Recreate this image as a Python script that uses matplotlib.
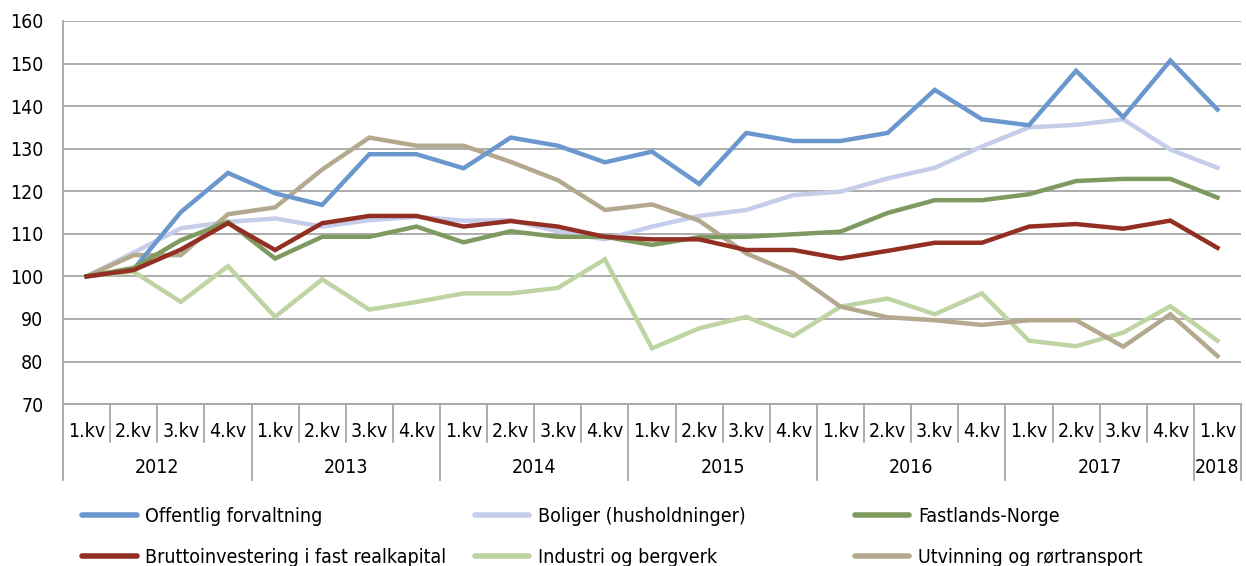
import matplotlib.pyplot as plt
import matplotlib.transforms as mtransforms
from matplotlib.lines import Line2D

plt.rcParams['font.family'] = ['DejaVu Sans']
plt.rcParams['font.stretch'] = 'condensed'

# data: index, 2012 Q1 = 100
quarters = ['1.kv', '2.kv', '3.kv', '4.kv'] * 6 + ['1.kv']
years = ['2012', '2013', '2014', '2015', '2016', '2017', '2018']

offentlig = [100, 101.7, 115.1, 124.3, 119.5, 116.8, 128.7, 128.7, 125.4, 132.6, 130.7, 126.8, 129.3,
             121.7, 133.7, 131.8, 131.8, 133.7, 143.8, 136.9, 135.5, 148.3, 137.4, 150.7, 139.2]
boliger = [100, 105.6, 111.3, 112.8, 113.6, 111.7, 113.2, 114.0, 113.1, 113.2, 110.6, 108.7, 111.7,
           114.2, 115.6, 119.1, 119.9, 123.0, 125.5, 130.5, 135.0, 135.6, 136.9, 129.8, 125.5]
fastland = [100, 102.0, 108.5, 112.8, 104.2, 109.3, 109.3, 111.7, 108.0, 110.6, 109.3, 109.3, 107.4,
            109.2, 109.3, 109.9, 110.5, 114.9, 117.9, 117.9, 119.3, 122.4, 122.9, 122.9, 118.5]
brutto = [100, 101.5, 106.3, 112.5, 106.2, 112.5, 114.2, 114.2, 111.7, 113.0, 111.7, 109.3, 108.7,
          108.7, 106.2, 106.2, 104.2, 106.0, 107.9, 107.9, 111.7, 112.3, 111.2, 113.1, 106.7]
industri = [100, 101.1, 94.0, 102.4, 90.5, 99.3, 92.2, 94.0, 96.0, 96.0, 97.3, 104.0, 83.1,
            87.8, 90.5, 86.0, 92.9, 94.8, 91.1, 96.0, 84.9, 83.6, 86.8, 93.0, 84.9]
utvinning = [100, 105.0, 105.0, 114.6, 116.2, 125.1, 132.6, 130.7, 130.7, 126.9, 122.6, 115.6, 116.9,
             113.1, 105.4, 100.7, 92.9, 90.4, 89.7, 88.6, 89.7, 89.7, 83.5, 91.1, 81.3]

series = [
    ('Offentlig forvaltning', offentlig, '#6b97cf'),
    ('Boliger (husholdninger)', boliger, '#c5cdeb'),
    ('Fastlands-Norge', fastland, '#7f9a5f'),
    ('Bruttoinvestering i fast realkapital', brutto, '#922f22'),
    ('Industri og bergverk', industri, '#bed4a2'),
    ('Utvinning og rørtransport', utvinning, '#b4a98e'),
]

fig = plt.figure(figsize=(12.46, 5.66), dpi=100)
ax = fig.add_axes([0.0506, 0.286, 0.9454, 0.677])

x = list(range(len(quarters)))
# draw order: light ones first so dark lines sit on top
for i in [1, 4, 5, 0, 2, 3]:
    name, vals, col = series[i]
    ax.plot(x, vals, color=col, lw=3.2, solid_joinstyle='miter', zorder=3)

ax.set_xlim(-0.5, len(quarters) - 0.5)
ax.set_ylim(70, 160)
ax.set_yticks(range(70, 161, 10))
ax.yaxis.grid(True, color='#a6a6a6', lw=1.3)
ax.set_axisbelow(True)
ax.tick_params(axis='y', length=0, labelsize=14, pad=14)
for s in ['top', 'right', 'bottom']:
    ax.spines[s].set_visible(False)
ax.spines['left'].set_color('#a6a6a6')
ax.spines['left'].set_linewidth(1.3)

# two-level category axis
ax.set_xticks(x)
ax.set_xticklabels(quarters, fontsize=14)
ax.tick_params(axis='x', length=0, pad=13)

trans = mtransforms.blended_transform_factory(ax.transData, ax.transAxes)
sep = '#a6a6a6'
for i in range(len(quarters) + 1):
    b = i - 0.5
    bottom = -0.197 if i % 4 == 0 or i == len(quarters) else -0.1
    ax.plot([b, b], [0, bottom], color=sep, lw=1.3, transform=trans, clip_on=False)
ax.plot([-0.5, len(quarters) - 0.5], [0, 0], color=sep, lw=1.3, transform=trans, clip_on=False)

for k, yr in enumerate(years):
    first = k * 4
    last = min(first + 3, len(quarters) - 1)
    ax.text((first + last) / 2, -0.165, yr, transform=trans, ha='center', va='center', fontsize=14)

# legend in three columns
order = [(0, 3), (1, 4), (2, 5)]
xpos = [0.066, 0.381, 0.686]
for (a, b), xp in zip(order, xpos):
    hs = [Line2D([], [], color=series[j][2], lw=4, solid_capstyle='round') for j in (a, b)]
    fig.legend(hs, [series[a][0], series[b][0]], loc='upper left', bbox_to_anchor=(xp, 0.105),
               frameon=False, fontsize=14, handlelength=2.8, handletextpad=0.45,
               labelspacing=1.15, borderaxespad=0, borderpad=0)

fig.savefig('out.png', dpi=100)
